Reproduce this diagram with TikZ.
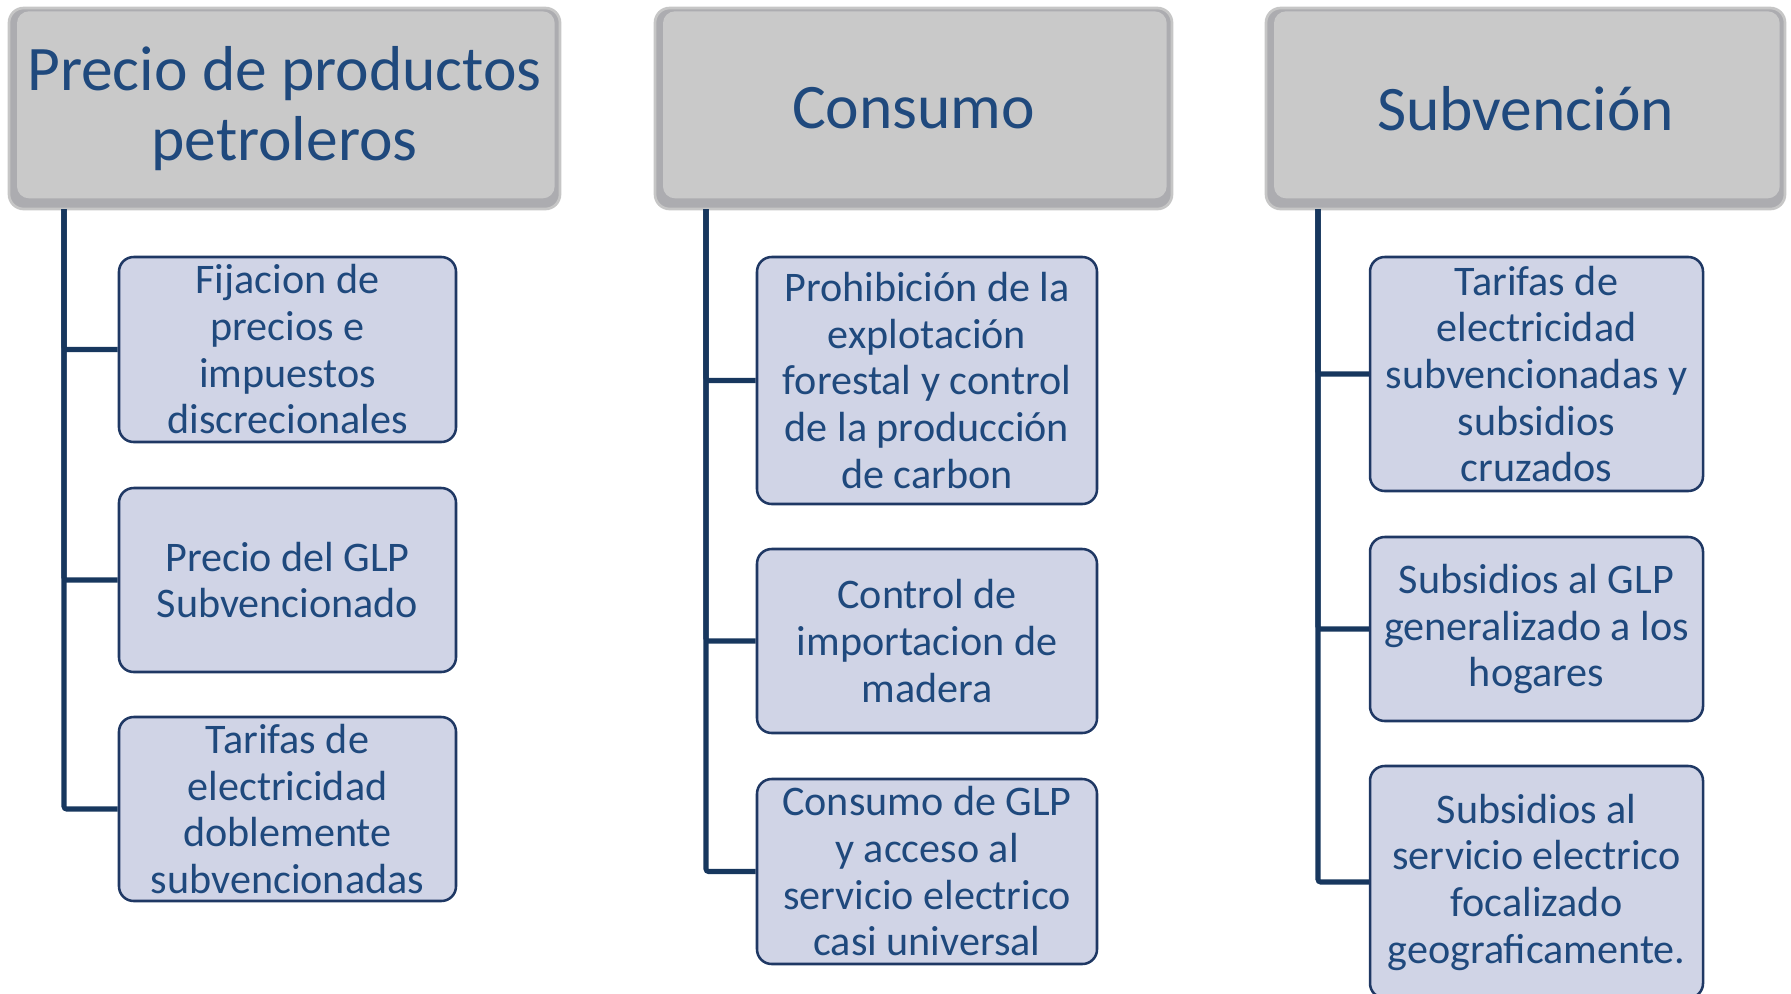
\documentclass[tikz,border=0pt]{standalone}
\usepackage{fontspec}
\setmainfont{Carlito}
\usepackage{tikz}
\usetikzlibrary{calc}

\definecolor{txtblue}{RGB}{31,73,125}
\definecolor{linkblue}{RGB}{23,55,94}
\definecolor{boxline}{RGB}{31,56,100}
\definecolor{boxfill}{RGB}{208,212,230}
\definecolor{hdrface}{RGB}{201,201,201}
\definecolor{hdrrim}{RGB}{172,172,176}
\definecolor{hdredge}{RGB}{198,198,198}

\tikzset{
  hdr/.style={draw=hdredge, line width=2pt, fill=hdrrim, rounded corners=11pt,
    text=txtblue, align=center, inner sep=0pt,
    font=\fontsize{47.6}{53}\selectfont,
    path picture={\fill[hdrface, rounded corners=9pt]
      ([shift={(6pt,-2.5pt)}]path picture bounding box.north west) rectangle
      ([shift={(-4pt,8pt)}]path picture bounding box.south east);}},
  sub/.style={draw=boxline, line width=1.9pt, fill=boxfill, rounded corners=11pt,
    text=txtblue, align=center, inner sep=0pt,
    font=\fontsize{31.6}{35}\selectfont},
  link/.style={draw=linkblue, line width=3.8pt, rounded corners=2pt}
}

\begin{document}
\begin{tikzpicture}[x=0.75pt,y=0.75pt,yscale=-1,xscale=1]
\useasboundingbox (0,0) rectangle (1791,993);

% Header Nodes
\node (h1) at (284.5,108.5) [hdr, minimum width=413.25pt, minimum height=150.75pt] {Precio de productos\\petroleros};
\node (h2) at (913.5,108.5) [hdr, minimum width=387.75pt, minimum height=150.75pt] {Consumo};
\node (h3) at (1525.5,108.5) [hdr, minimum width=389.25pt, minimum height=150.75pt] {Subvención};

% Column 1
\node (c11) at (287.5,349.5) [sub, minimum width=252.75pt, minimum height=138.75pt] {Fijacion de\\precios e\\impuestos\\discrecionales};
\node (c12) at (287.5,580) [sub, minimum width=252.75pt, minimum height=138pt] {Precio del GLP\\Subvencionado};
\node (c13) at (287.5,809) [sub, minimum width=252.75pt, minimum height=138pt] {Tarifas de\\electricidad\\doblemente\\subvencionadas};

% Column 2
\node (c21) at (927,380.5) [sub, minimum width=255pt, minimum height=185.25pt] {Prohibición de la\\explotación\\forestal y control\\de la producción\\de carbon};
\node (c22) at (927,641) [sub, minimum width=255pt, minimum height=138pt] {Control de\\importacion de\\madera};
\node (c23) at (927,871.5) [sub, minimum width=255pt, minimum height=138.75pt] {Consumo de GLP\\y acceso al\\servicio electrico\\casi universal};

% Column 3
\node (c31) at (1536.5,374) [sub, minimum width=249.75pt, minimum height=175.5pt] {Tarifas de\\electricidad\\subvencionadas y\\subsidios\\cruzados};
\node (c32) at (1536.5,629) [sub, minimum width=249.75pt, minimum height=138pt] {Subsidios al GLP\\generalizado a los\\hogares};
\node (c33) at (1536.5,882) [sub, minimum width=249.75pt, minimum height=174pt] {Subsidios al\\servicio electrico\\focalizado\\geograficamente.};

% Tree lines
\coordinate (t1) at (64,209);
\coordinate (t2) at (706,209);
\coordinate (t3) at (1318,209);
\draw [link] (t1) |- (c11.west);
\draw [link] (t1) |- (c12.west);
\draw [link] (t1) |- (c13.west);
\draw [link] (t2) |- (c21.west);
\draw [link] (t2) |- (c22.west);
\draw [link] (t2) |- (c23.west);
\draw [link] (t3) |- (c31.west);
\draw [link] (t3) |- (c32.west);
\draw [link] (t3) |- (c33.west);

\end{tikzpicture}
\end{document}
